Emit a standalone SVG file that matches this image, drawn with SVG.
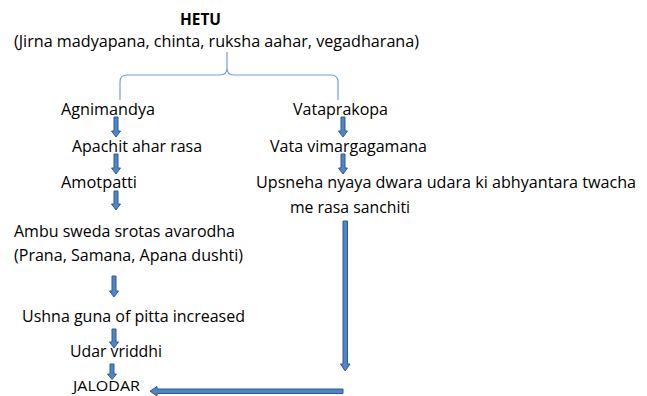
<svg xmlns="http://www.w3.org/2000/svg" width="647" height="396" viewBox="0 0 647 396">
<style>
text{font-family:"Open Sans","Liberation Sans",Arial,sans-serif;font-size:16px;fill:#000;text-anchor:middle}
.b{font-weight:bold}
.arr{fill:#4f86c6;stroke:#2f5b8c;stroke-width:1}
.brace{fill:none;stroke:#6fa3da;stroke-width:1.2}
</style>
<rect width="647" height="396" fill="#fff"/>
<g id="hetu">
<text class="b" x="200.5" y="25" textLength="41" lengthAdjust="spacingAndGlyphs">HETU</text>
<text x="216.5" y="47" textLength="405" lengthAdjust="spacingAndGlyphs">(Jirna madyapana, chinta, ruksha aahar, vegadharana)</text>
</g>
<g id="agnimandya"><text x="108" y="115" textLength="94" lengthAdjust="spacingAndGlyphs">Agnimandya</text></g>
<g id="vataprakopa"><text x="340.5" y="115" textLength="95" lengthAdjust="spacingAndGlyphs">Vataprakopa</text></g>
<g id="apachit"><text x="137" y="152" textLength="130" lengthAdjust="spacingAndGlyphs">Apachit ahar rasa</text></g>
<g id="vimarga"><text x="348.5" y="152" textLength="157" lengthAdjust="spacingAndGlyphs">Vata vimargagamana</text></g>
<g id="amotpatti"><text x="99" y="188" textLength="76" lengthAdjust="spacingAndGlyphs">Amotpatti</text></g>
<g id="upsneha">
<text x="446" y="188" textLength="380" lengthAdjust="spacingAndGlyphs">Upsneha nyaya dwara udara ki abhyantara twacha</text>
<text x="350" y="213" textLength="120" lengthAdjust="spacingAndGlyphs">me rasa sanchiti</text>
</g>
<g id="ambu">
<text x="124.5" y="237" textLength="221" lengthAdjust="spacingAndGlyphs">Ambu sweda srotas avarodha</text>
<text x="128.5" y="261" textLength="229" lengthAdjust="spacingAndGlyphs">(Prana, Samana, Apana dushti)</text>
</g>
<g id="ushna"><text x="133.5" y="322" textLength="223" lengthAdjust="spacingAndGlyphs">Ushna guna of pitta increased</text></g>
<g id="udar"><text x="116" y="357" textLength="92" lengthAdjust="spacingAndGlyphs">Udar vriddhi</text></g>
<g id="jalodar"><text x="106.5" y="391" style="font-size:15px" textLength="67" lengthAdjust="spacingAndGlyphs">JALODAR</text></g>
<g id="connectors">
<path class="brace" d="M120,100 V82 Q120,75 127,75 H220 Q227,75 227,68 V52 V68 Q227,75 234,75 H331 Q338,75 338,82 V100"/>
<path class="arr" d="M114,117 H118 V131 H120.5 L116,137 L111.5,131 H114 Z"/>
<path class="arr" d="M341,117 H345 V131 H347.5 L343,137 L338.5,131 H341 Z"/>
<path class="arr" d="M114,154 H118 V168 H120.5 L116,174 L111.5,168 H114 Z"/>
<path class="arr" d="M341,154 H345 V168 H347.5 L343,174 L338.5,168 H341 Z"/>
<path class="arr" d="M114,191 H118 V204 H120.5 L116,210 L111.5,204 H114 Z"/>
<path class="arr" d="M112,276 H116 V291 H118.5 L114,297 L109.5,291 H112 Z"/>
<path class="arr" d="M112,329 H116 V342 H118.5 L114,348 L109.5,342 H112 Z"/>
<path class="arr" d="M110,364 H114 V374 H116.5 L112,379.5 L107.5,374 H110 Z"/>
<path class="arr" d="M343,221 H347.5 V364 H350 L345.2,371 L340.5,364 H343 Z"/>
<path class="arr" d="M343,389 V393.5 H157 V396 L150,391.2 L157,386.5 V389 Z"/>
</g>
</svg>
